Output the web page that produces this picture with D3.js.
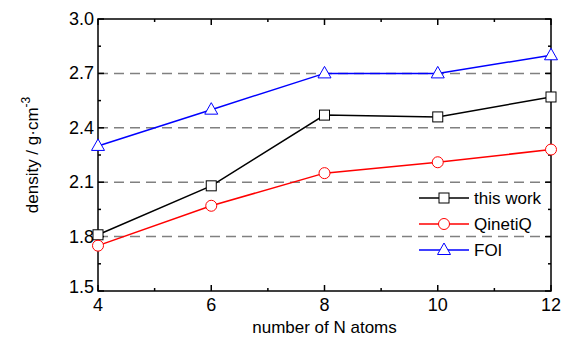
<!DOCTYPE html>
<html>
<head>
<meta charset="utf-8">
<script src="https://cdn.jsdelivr.net/npm/d3@7"></script>
<style>
  body { margin: 0; background: #fff; }
  text { font-family: "Liberation Sans", Arial, sans-serif; }
</style>
</head>
<body>
<div id="chart"></div>
<script>
const atoms = [4, 6, 8, 10, 12];
const thisWork = [1.81, 2.08, 2.47, 2.46, 2.57];
const qinetiq = [1.75, 1.97, 2.15, 2.21, 2.28];
const foi = [2.30, 2.50, 2.70, 2.70, 2.80];
const yTicks = [1.5, 1.8, 2.1, 2.4, 2.7, 3.0];
const gridValues = [1.8, 2.1, 2.4, 2.7];
const seriesNames = ['this work', 'QinetiQ', 'FOI'];

const width = 562, height = 339;
const margin = {top: 19, right: 11, bottom: 48, left: 98};

let svg = d3.select('#chart').append('svg')
    .attr('width', width)
    .attr('height', height);

let x = d3.scaleLinear().domain([4, 12]).range([margin.left, width - margin.right]);
let y = d3.scaleLinear().domain([1.5, 3.0]).range([height - margin.bottom, margin.top]);

// dashed grid lines
svg.append('g')
    .selectAll('line')
    .data(gridValues)
    .enter().append('line')
    .attr('x1', x(4)).attr('x2', x(12))
    .attr('y1', d => y(d)).attr('y2', d => y(d))
    .attr('stroke', '#808080')
    .attr('stroke-width', 1.5)
    .attr('stroke-dasharray', '10,6');

// ticks (inward) on all four sides
const xMajor = atoms, xMinor = [5, 7, 9, 11];
const yMinor = [1.65, 1.95, 2.25, 2.55, 2.85];
let ticks = svg.append('g').attr('stroke', '#000').attr('stroke-width', 1.5);
function xTick(v, len) {
    ticks.append('line').attr('x1', x(v)).attr('x2', x(v)).attr('y1', y(1.5)).attr('y2', y(1.5) - len);
    ticks.append('line').attr('x1', x(v)).attr('x2', x(v)).attr('y1', y(3)).attr('y2', y(3) + len);
}
function yTick(v, len) {
    ticks.append('line').attr('x1', x(4)).attr('x2', x(4) + len).attr('y1', y(v)).attr('y2', y(v));
    ticks.append('line').attr('x1', x(12)).attr('x2', x(12) - len).attr('y1', y(v)).attr('y2', y(v));
}
xMajor.forEach(v => xTick(v, 6));
xMinor.forEach(v => xTick(v, 3));
yTicks.forEach(v => yTick(v, 6));
yMinor.forEach(v => yTick(v, 3));

// frame
svg.append('rect')
    .attr('x', x(4)).attr('y', y(3))
    .attr('width', x(12) - x(4)).attr('height', y(1.5) - y(3))
    .attr('fill', 'none').attr('stroke', '#000').attr('stroke-width', 1.5);

// tick labels
svg.append('g').selectAll('text')
    .data(atoms)
    .enter().append('text')
    .attr('x', d => x(d)).attr('y', y(1.5) + 20)
    .attr('text-anchor', 'middle')
    .attr('font-size', 18)
    .text(d => d);

svg.append('g').selectAll('text')
    .data(yTicks)
    .enter().append('text')
    .attr('x', x(4) - 4).attr('y', d => y(d) + 6 - (d === 1.5 ? 4 : 0))
    .attr('text-anchor', 'end')
    .attr('font-size', 18)
    .text(d => d.toFixed(1));

// axis titles
svg.append('text')
    .attr('x', (x(4) + x(12)) / 2).attr('y', 333)
    .attr('text-anchor', 'middle')
    .attr('font-size', 17)
    .text('number of N atoms');

let yl = svg.append('text')
    .attr('transform', 'translate(38,' + ((y(1.5) + y(3)) / 2) + ') rotate(-90)')
    .attr('text-anchor', 'middle')
    .attr('font-size', 17);
yl.append('tspan').text('density / g\u00B7cm');
yl.append('tspan').attr('dy', -8).attr('font-size', 12).text('-3');

// series
const series = [
    {name: seriesNames[0], values: thisWork, color: '#000000', shape: 'square'},
    {name: seriesNames[1], values: qinetiq, color: '#ff0000', shape: 'circle'},
    {name: seriesNames[2], values: foi, color: '#0000ff', shape: 'triangle'}
];

function drawMarker(g, shape, cx, cy, color) {
    if (shape === 'square') {
        g.append('rect').attr('x', cx - 5).attr('y', cy - 5).attr('width', 10).attr('height', 10)
            .attr('fill', '#fff').attr('stroke', color).attr('stroke-width', 1);
    } else if (shape === 'circle') {
        g.append('circle').attr('cx', cx).attr('cy', cy).attr('r', 5.5)
            .attr('fill', '#fff').attr('stroke', color).attr('stroke-width', 1);
    } else {
        g.append('path')
            .attr('d', `M${cx},${cy - 7}L${cx + 6.5},${cy + 4.5}L${cx - 6.5},${cy + 4.5}Z`)
            .attr('fill', '#fff').attr('stroke', color).attr('stroke-width', 1);
    }
}

let line = d3.line().x(d => x(d[0])).y(d => y(d[1]));
let plot = svg.append('g');
series.forEach(s => {
    let pts = atoms.map((a, i) => [a, s.values[i]]);
    plot.append('path')
        .attr('d', line(pts))
        .attr('fill', 'none')
        .attr('stroke', s.color)
        .attr('stroke-width', 1.5);
    pts.forEach(p => drawMarker(plot, s.shape, x(p[0]), y(p[1]), s.color));
});

// legend
let legend = svg.append('g');
series.forEach((s, i) => {
    let ly = 198 + i * 26;
    legend.append('line').attr('x1', 419).attr('x2', 469).attr('y1', ly).attr('y2', ly)
        .attr('stroke', s.color).attr('stroke-width', 1.5);
    drawMarker(legend, s.shape, 444, ly, s.color);
    legend.append('text').attr('x', 474).attr('y', ly + 6)
        .attr('font-size', 17).text(s.name);
});
</script>
</body>
</html>
